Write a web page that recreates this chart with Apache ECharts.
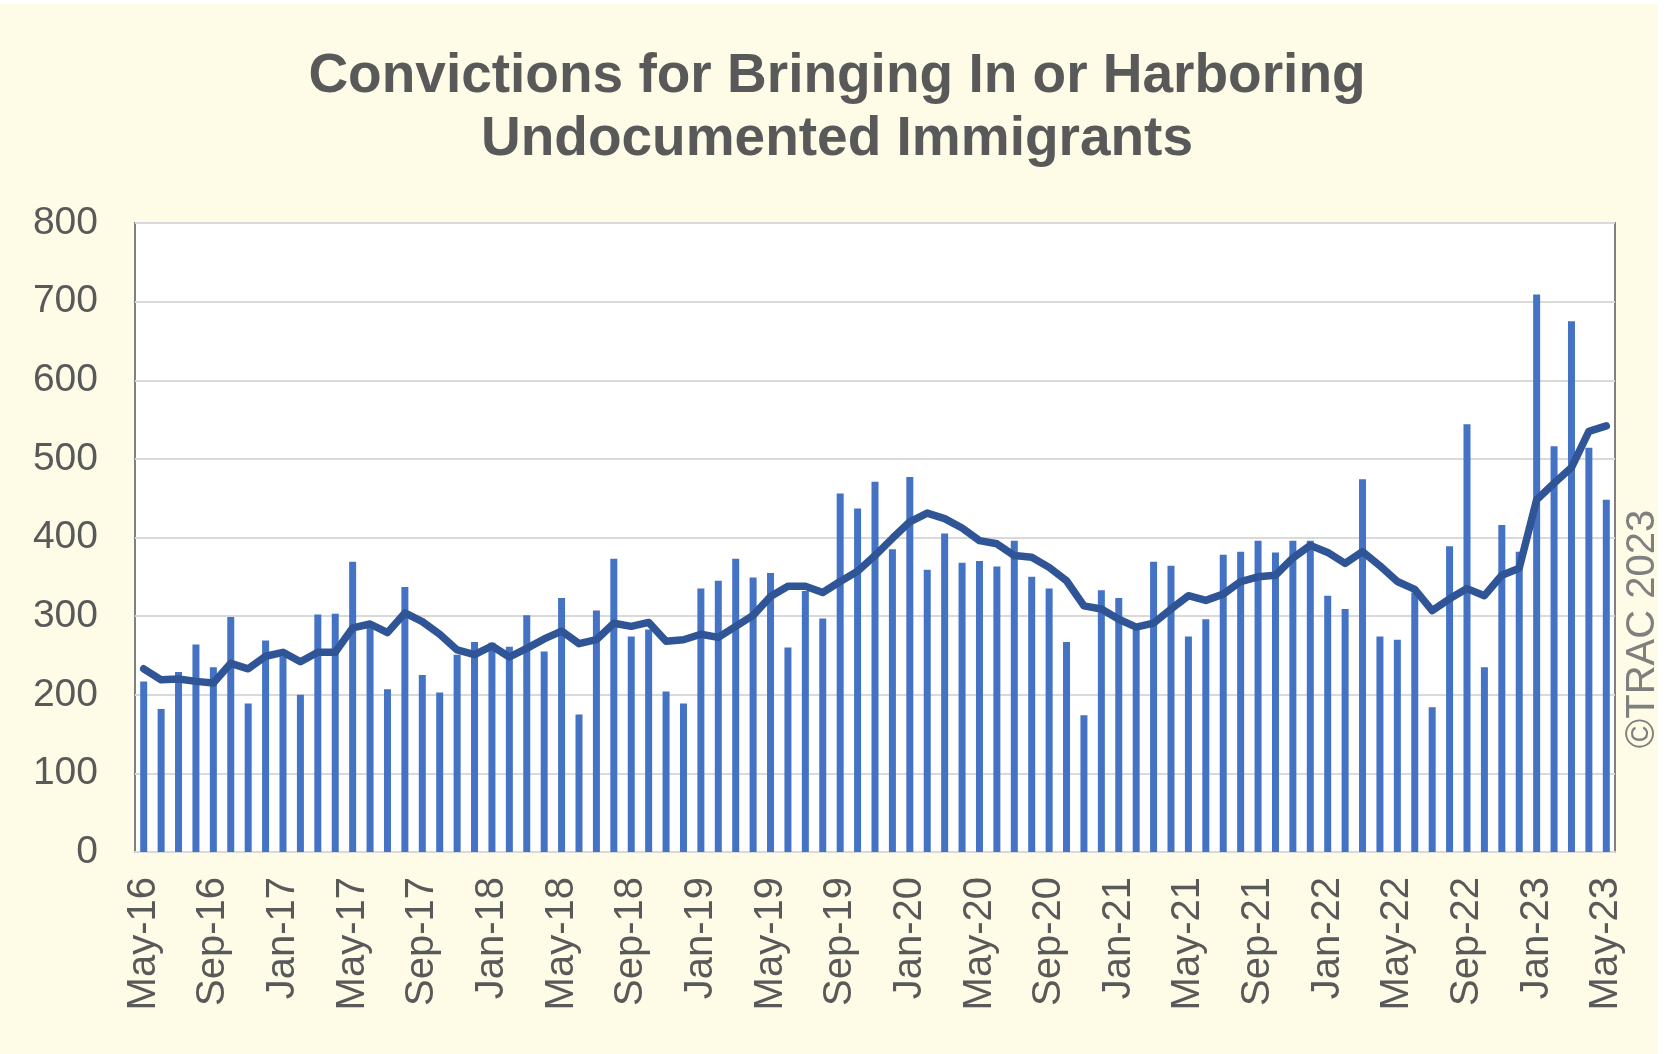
<!DOCTYPE html>
<html>
<head>
<meta charset="utf-8">
<script src="https://cdn.jsdelivr.net/npm/echarts@6/dist/echarts.min.js"></script>
<style>
html,body{margin:0;padding:0;background:#ffffff;}
#chart{width:1672px;height:1054px;}
</style>
</head>
<body>
<div id="chart"></div>
<script>
// Months May-16 .. May-23
const monthNames = ['Jan','Feb','Mar','Apr','May','Jun','Jul','Aug','Sep','Oct','Nov','Dec'];
const categories = [];
for (let y = 2016, m = 4; y < 2023 || (y === 2023 && m <= 4); ) {
  categories.push(monthNames[m] + '-' + String(y).slice(2));
  m++; if (m === 12) { m = 0; y++; }
}
const yTicks = [0, 100, 200, 300, 400, 500, 600, 700, 800];

const convictions = [217,182,229,264,235,299,189,269,249,200,302,303,369,285,207,337,225,203,251,267,266,261,301,255,323,175,307,373,274,283,204,189,335,345,373,349,355,260,332,297,456,437,471,385,477,359,405,368,370,363,396,350,335,267,174,333,323,283,369,364,274,296,378,382,396,381,396,396,326,309,474,274,270,330,184,389,544,235,416,382,709,516,675,514,448];

const movingAvg = [233,219,220,217,215,240,233,249,254,242,254,254,285,290,279,304,293,277,257,251,262,248,259,271,281,265,270,291,287,292,268,270,277,273,287,301,325,338,338,330,344,357,377,399,420,431,424,412,396,392,377,375,362,345,313,309,296,286,291,309,326,320,328,344,350,352,374,390,381,367,382,364,344,334,307,322,335,326,352,361,448,469,489,535,542];

const titleText = 'Convictions for Bringing In or Harboring\nUndocumented Immigrants';
const watermark = '©TRAC 2023';

const chart = echarts.init(document.getElementById('chart'), null, {renderer: 'canvas'});
chart.setOption({
  backgroundColor: '#fefbe7',
  animation: false,
  title: {
    text: titleText,
    left: 832, top: 40, textAlign: 'center',
    textStyle: {fontFamily: 'Liberation Sans, Arial, sans-serif', fontWeight: 'bold', fontSize: 55, lineHeight: 63, color: '#595959'}
  },
  graphic: [
    {type: 'rect', left: 0, top: 0, shape: {width: 1672, height: 4}, style: {fill: '#ffffff'}, silent: true},
    {type: 'rect', right: 0, top: 0, shape: {width: 14, height: 1054}, style: {fill: '#ffffff'}, silent: true},
    {type: 'text', x: 1643, y: 629, rotation: Math.PI / 2,
     style: {text: watermark, fontFamily: 'Liberation Sans, Arial, sans-serif', fontSize: 40, fill: '#7f7f7f', align: 'center', verticalAlign: 'middle'}}
  ],
  grid: {left: 135, right: 57, top: 223, bottom: 202, show: true, backgroundColor: '#ffffff', borderColor: '#808080', borderWidth: 2},
  xAxis: {
    type: 'category', data: categories, boundaryGap: true,
    axisLine: {show: true, lineStyle: {color: '#d9d9d9', width: 2}},
    axisTick: {show: false},
    axisLabel: {interval: 3, rotate: 90, margin: 25, fontFamily: 'Liberation Sans, Arial, sans-serif', fontSize: 40, color: '#595959'}
  },
  yAxis: {
    type: 'value', min: 0, max: 800, interval: 100,
    axisLine: {show: false}, axisTick: {show: false},
    splitLine: {lineStyle: {color: '#d9d9d9', width: 2}},
    axisLabel: {margin: 37, fontFamily: 'Liberation Sans, Arial, sans-serif', fontSize: 39, color: '#595959',
      formatter: v => yTicks.includes(v) ? String(v) : ''}
  },
  series: [
    {type: 'bar', data: convictions, barWidth: 7, itemStyle: {color: '#4472c4'}, z: 2},
    {type: 'line', data: movingAvg, symbol: 'none', smooth: false, z: 3,
     lineStyle: {color: '#2f5597', width: 7.5, cap: 'round', join: 'round'}}
  ]
});
</script>
</body>
</html>
